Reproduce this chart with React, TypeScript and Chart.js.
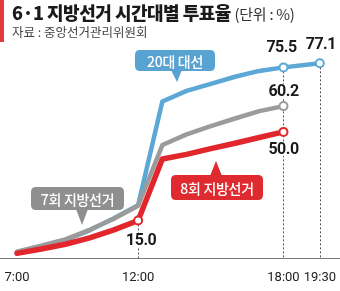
import React, { useEffect, useRef } from "react";
import { Chart, registerables } from "chart.js";

Chart.register(...registerables);

// ---- data ----
const hours = [7, 8, 9, 10, 11, 12, 13, 14, 15, 16, 17, 18, 19.5];
const tickHours = [7, 12, 18, 19.5];
const tickLabels = ["7:00", "12:00", "18:00", "19:30"];
const seriesNames = ["8회 지방선거", "7회 지방선거", "20대 대선"];
const local8 = [2.0, 3.7, 5.6, 8.1, 11.3, 15.0, 39.3, 41.1, 43.4, 45.5, 47.8, 50.0, null];
const local7 = [2.7, 5.0, 7.5, 11.3, 15.7, 20.8, 44.8, 49.0, 52.3, 55.3, 58.2, 60.2, null];
const presidential20 = [2.5, 4.8, 7.3, 11.1, 15.9, 21.0, 62.0, 66.2, 69.0, 71.8, 74.1, 75.5, 77.1];

// ---- styles ----
const RED = "#e1262c";
const GRAY = "#9b9b9b";
const BLUE = "#5ba8d6";

const markerIdx: number[][] = [[5, 11], [11], [11, 12]];
const valueLabels = [
  { ds: 0, idx: 5, dx: 3, dy: 20 },
  { ds: 0, idx: 11, dx: 0, dy: 17 },
  { ds: 1, idx: 11, dx: 0, dy: -15 },
  { ds: 2, idx: 11, dx: -2, dy: -20 },
  { ds: 2, idx: 12, dx: 1, dy: -19 },
];
const dropLines = [
  { ds: 0, idx: 5 },
  { ds: 2, idx: 11 },
  { ds: 2, idx: 12 },
];
const callouts = [
  { text: seriesNames[2], color: "#58a3d1", x: 135, y: 50, w: 80, h: 21, tip: [177, 82], base: [171, 182], up: false },
  { text: seriesNames[1], color: "#8f8f8f", x: 31, y: 187, w: 93, h: 23, tip: [82, 225], base: [76, 88], up: false },
  { text: seriesNames[0], color: "#df2a2f", x: 171, y: 175, w: 92, h: 25, tip: [216, 161], base: [210, 222], up: true },
];

function roundRect(ctx: CanvasRenderingContext2D, x: number, y: number, w: number, h: number, r: number) {
  ctx.beginPath();
  ctx.moveTo(x + r, y);
  ctx.lineTo(x + w - r, y);
  ctx.quadraticCurveTo(x + w, y, x + w, y + r);
  ctx.lineTo(x + w, y + h - r);
  ctx.quadraticCurveTo(x + w, y + h, x + w - r, y + h);
  ctx.lineTo(x + r, y + h);
  ctx.quadraticCurveTo(x, y + h, x, y + h - r);
  ctx.lineTo(x, y + r);
  ctx.quadraticCurveTo(x, y, x + r, y);
  ctx.closePath();
}

const decorPlugin = {
  id: "decor",
  beforeDatasetsDraw(chart: any) {
    const ctx = chart.ctx as CanvasRenderingContext2D;
    const ys = chart.scales.y;
    const y0 = ys.getPixelForValue(0);
    ctx.save();
    ctx.strokeStyle = "#7a7a7a";
    ctx.lineWidth = 1;
    ctx.beginPath();
    ctx.moveTo(0, Math.round(y0) + 0.5);
    ctx.lineTo(chart.width, Math.round(y0) + 0.5);
    ctx.stroke();
    ctx.setLineDash([2, 2]);
    ctx.strokeStyle = "#555";
    dropLines.forEach((d) => {
      const el = chart.getDatasetMeta(d.ds).data[d.idx];
      const x = Math.round(el.x) + 0.5;
      ctx.beginPath();
      ctx.moveTo(x, el.y);
      ctx.lineTo(x, y0);
      ctx.stroke();
    });
    ctx.restore();
  },
  afterDatasetsDraw(chart: any) {
    const ctx = chart.ctx as CanvasRenderingContext2D;
    ctx.save();
    ctx.font = "bold 16px Roboto, 'Noto Sans', sans-serif";
    ctx.textAlign = "center";
    ctx.textBaseline = "middle";
    (ctx as any).letterSpacing = "-0.5px";
    valueLabels.forEach((l) => {
      const ds = chart.data.datasets[l.ds];
      const el = chart.getDatasetMeta(l.ds).data[l.idx];
      const txt = Number(ds.data[l.idx].y).toFixed(1);
      const x = el.x + l.dx;
      const y = el.y + l.dy;
      const w = ctx.measureText(txt).width;
      ctx.fillStyle = "#fff";
      ctx.fillRect(x - w / 2 - 1, y - 7, w + 2, 14);
      ctx.fillStyle = "#1a1a1a";
      ctx.fillText(txt, x, y + 1);
    });
    (ctx as any).letterSpacing = "-0.3px";
    ctx.font = "500 14px 'Noto Sans CJK KR', sans-serif";
    callouts.forEach((c) => {
      ctx.fillStyle = c.color;
      roundRect(ctx, c.x, c.y, c.w, c.h, 5);
      ctx.fill();
      ctx.beginPath();
      const by = c.up ? c.y + 1 : c.y + c.h - 1;
      ctx.moveTo(c.base[0], by);
      ctx.lineTo(c.tip[0], c.tip[1]);
      ctx.lineTo(c.base[1], by);
      ctx.closePath();
      ctx.fill();
      ctx.fillStyle = "#fff";
      ctx.fillText(c.text, c.x + c.w / 2, c.y + c.h / 2 + 1);
    });
    ctx.restore();
  },
};

export default function App() {
  const ref = useRef<HTMLCanvasElement>(null);
  useEffect(() => {
    document.body.style.margin = "0";
    if (!ref.current) return;
    const mk = (vals: (number | null)[], color: string, width: number, dsIndex: number) => ({
      label: seriesNames[dsIndex],
      data: vals.map((v, i) => ({ x: hours[i], y: v })),
      borderColor: color,
      backgroundColor: "#fff",
      borderWidth: width,
      borderCapStyle: "round" as const,
      borderJoinStyle: "round" as const,
      pointRadius: vals.map((_, i) => (markerIdx[dsIndex].includes(i) ? 4 : 0)),
      pointBorderWidth: 2,
      pointBorderColor: color,
      pointBackgroundColor: "#fff",
      tension: 0,
      spanGaps: false,
      clip: false as const,
    });
    const chart = new Chart(ref.current, {
      type: "line",
      data: {
        datasets: [
          mk(local8, RED, 5.5, 0),
          mk(local7, GRAY, 4.5, 1),
          mk(presidential20, BLUE, 4.5, 2),
        ],
      },
      options: {
        responsive: false,
        animation: false,
        devicePixelRatio: 1,
        layout: { padding: { left: 17, right: 18, top: 56, bottom: 1 } },
        plugins: { legend: { display: false }, tooltip: { enabled: false } },
        scales: {
          x: {
            type: "linear",
            min: 7,
            max: 19.5,
            grid: { display: false },
            border: { display: false },
            afterBuildTicks: (axis: any) => {
              axis.ticks = tickHours.map((v) => ({ value: v }));
            },
            ticks: {
              autoSkip: false,
              maxRotation: 0,
              padding: 4,
              color: "#222",
              font: { family: "Roboto, 'Noto Sans', sans-serif", size: 13 },
              callback: (v: any) => tickLabels[tickHours.indexOf(Number(v))] ?? "",
            },
          },
          y: { display: false, min: 0, max: 80 },
        },
      },
      plugins: [decorPlugin],
    });
    return () => chart.destroy();
  }, []);

  return (
    <div style={{ position: "relative", width: 340, height: 291, background: "#fff", overflow: "hidden" }}>
      <canvas ref={ref} width={340} height={291} style={{ position: "absolute", left: 0, top: 0 }} />
      <div style={{ position: "absolute", left: 0, top: 0, width: 4, height: 42, background: "#e23a3f" }} />
      <div
        style={{
          position: "absolute",
          left: 12,
          top: 3,
          whiteSpace: "nowrap",
          fontFamily: "'Noto Sans CJK KR', sans-serif",
          fontWeight: 900,
          fontSize: 18,
          lineHeight: 1,
          letterSpacing: -0.5,
          color: "#1a1a1a",
        }}
      >
        6·1 지방선거 시간대별 투표율{" "}
        <span style={{ fontWeight: 400, fontSize: 15, color: "#333", letterSpacing: -0.3 }}>(단위 : %)</span>
      </div>
      <div
        style={{
          position: "absolute",
          left: 12,
          top: 26,
          whiteSpace: "nowrap",
          fontFamily: "'Noto Sans CJK KR', sans-serif",
          fontSize: 12.5,
          lineHeight: 1,
          color: "#444",
        }}
      >
        자료 : 중앙선거관리위원회
      </div>
    </div>
  );
}
